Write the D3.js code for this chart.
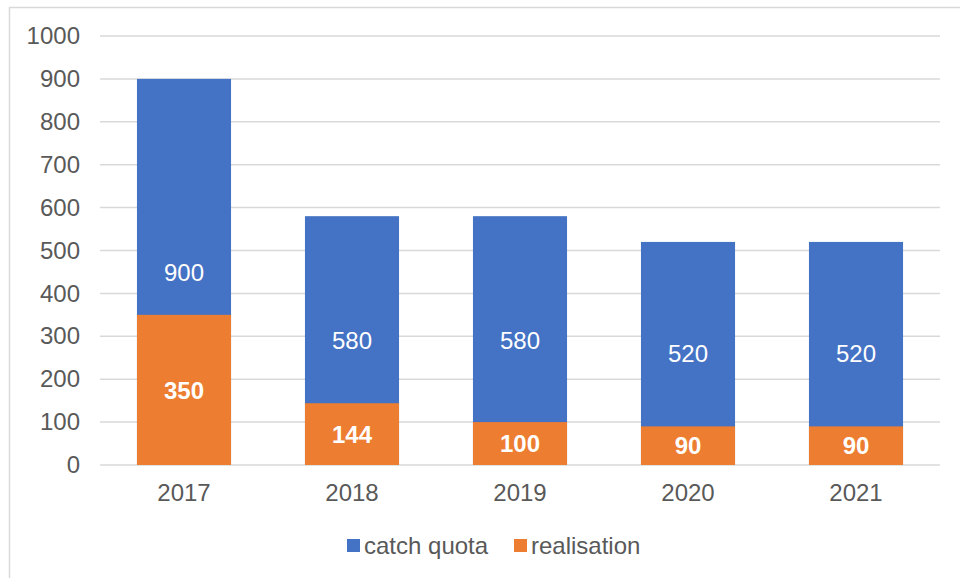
<!DOCTYPE html>
<html>
<head>
<meta charset="utf-8">
<script src="https://cdn.jsdelivr.net/npm/d3@7"></script>
<style>
  body { margin: 0; background: #fff; }
  svg { display: block; font-family: "Liberation Sans", Arial, sans-serif; }
</style>
</head>
<body>
<div id="chart"></div>
<script>
const years = ["2017", "2018", "2019", "2020", "2021"];
const catchQuota = [900, 580, 580, 520, 520];
const realisation = [350, 144, 100, 90, 90];
const yTicks = [0, 100, 200, 300, 400, 500, 600, 700, 800, 900, 1000];
const seriesNames = ["catch quota", "realisation"];

const width = 960, height = 578;
const margin = { top: 36, right: 20, bottom: 113, left: 100 };
const colors = ["#4472C4", "#ED7D31"];
const fontSize = "24px";

const svg = d3.select("#chart")
  .append("svg")
  .attr("width", width)
  .attr("height", height);

// chart frame (runs off the right/bottom edge)
svg.append("rect")
  .attr("x", 9.5).attr("y", 7.5)
  .attr("width", 1000).attr("height", 1000)
  .attr("fill", "none")
  .attr("stroke", "#d9d9d9")
  .attr("stroke-width", 1.5);

const x = d3.scaleBand()
  .domain(years)
  .range([margin.left, width - margin.right])
  .paddingInner(0.44)
  .paddingOuter(0.22);

const y = d3.scaleLinear()
  .domain([0, 1000])
  .range([height - margin.bottom, margin.top]);

// gridlines
svg.append("g")
  .selectAll("line")
  .data(yTicks)
  .join("line")
  .attr("x1", margin.left)
  .attr("x2", width - margin.right)
  .attr("y1", d => y(d))
  .attr("y2", d => y(d))
  .attr("stroke", "#d9d9d9")
  .attr("stroke-width", 1.5);

// y axis labels
const yAxis = svg.append("g")
  .attr("transform", `translate(${margin.left}, 0)`)
  .call(d3.axisLeft(y).tickValues(yTicks).tickFormat(d3.format("d")).tickSize(0).tickPadding(20));
yAxis.select(".domain").remove();
yAxis.selectAll("text")
  .attr("fill", "#595959")
  .style("font-size", fontSize);

// x axis labels
const xAxis = svg.append("g")
  .attr("transform", `translate(0, ${y(0)})`)
  .call(d3.axisBottom(x).tickSize(0).tickPadding(19));
xAxis.select(".domain").remove();
xAxis.selectAll("text")
  .attr("fill", "#595959")
  .style("font-size", fontSize);

// bars: quota behind, realisation overlapping in front
const data = years.map((yr, i) => ({ year: yr, quota: catchQuota[i], real: realisation[i] }));

svg.append("g")
  .selectAll("rect")
  .data(data)
  .join("rect")
  .attr("x", d => x(d.year))
  .attr("width", x.bandwidth())
  .attr("y", d => y(d.quota))
  .attr("height", d => y(0) - y(d.quota))
  .attr("fill", colors[0]);

svg.append("g")
  .selectAll("rect")
  .data(data)
  .join("rect")
  .attr("x", d => x(d.year))
  .attr("width", x.bandwidth())
  .attr("y", d => y(d.real))
  .attr("height", d => y(0) - y(d.real))
  .attr("fill", colors[1]);

// data labels
svg.append("g")
  .selectAll("text")
  .data(data)
  .join("text")
  .attr("x", d => x(d.year) + x.bandwidth() / 2)
  .attr("y", d => y(d.quota / 2))
  .attr("dy", "0.36em")
  .attr("text-anchor", "middle")
  .attr("fill", "#fff")
  .style("font-size", fontSize)
  .text(d => d.quota);

svg.append("g")
  .selectAll("text")
  .data(data)
  .join("text")
  .attr("x", d => x(d.year) + x.bandwidth() / 2)
  .attr("y", d => y(d.real / 2))
  .attr("dy", "0.36em")
  .attr("text-anchor", "middle")
  .attr("fill", "#fff")
  .style("font-size", fontSize)
  .style("font-weight", "bold")
  .text(d => d.real);

// legend
const legendX = [347, 514];
const legend = svg.append("g")
  .selectAll("g")
  .data(seriesNames)
  .join("g")
  .attr("transform", (d, i) => `translate(${legendX[i]}, 539)`);
legend.append("rect")
  .attr("width", 13).attr("height", 13)
  .attr("fill", (d, i) => colors[i]);
legend.append("text")
  .attr("x", 17)
  .attr("y", 15)
  .attr("fill", "#595959")
  .style("font-size", fontSize)
  .text(d => d);
</script>
</body>
</html>
